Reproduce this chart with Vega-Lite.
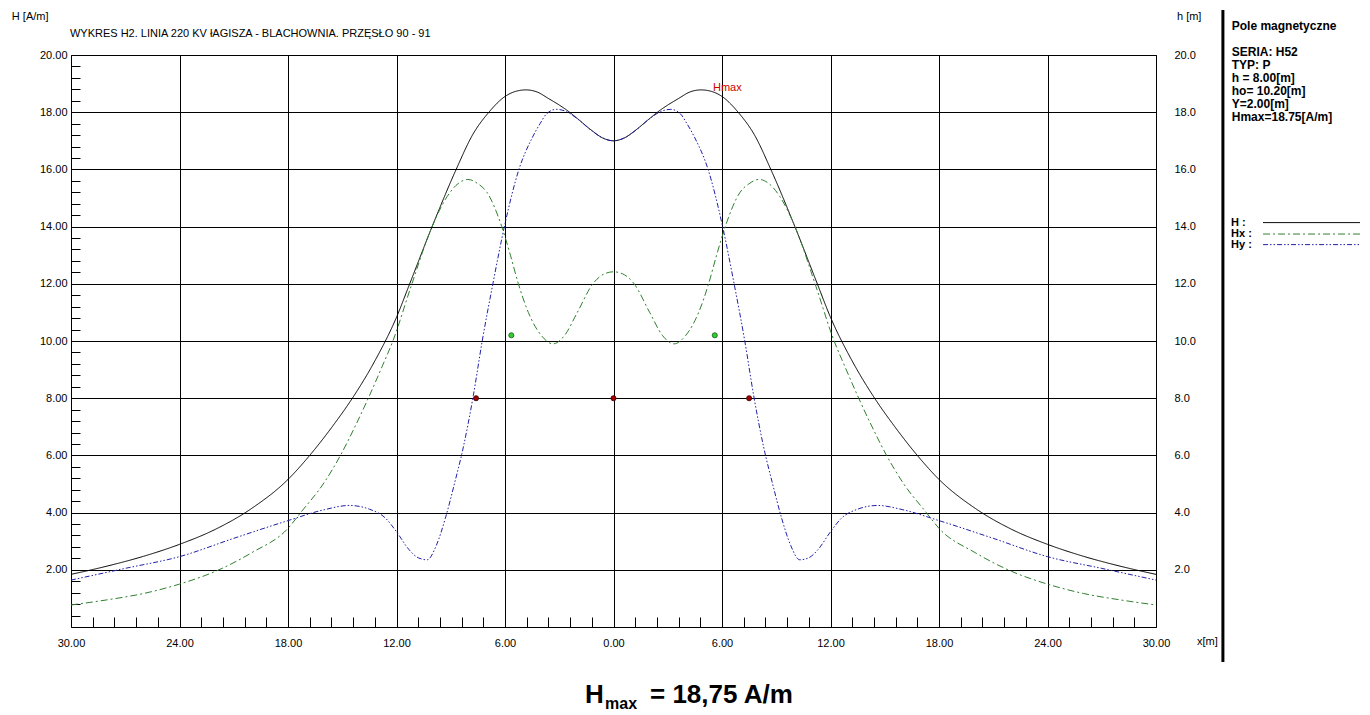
{
  "$schema": "https://vega.github.io/schema/vega-lite/v6.json",
  "width": 1085,
  "height": 572,
  "autosize": "none",
  "padding": {"left": 71, "top": 55, "right": 214, "bottom": 88},
  "background": "white",
  "config": {
    "view": {"stroke": "#000", "strokeWidth": 1},
    "font": "Liberation Sans"
  },
  "datasets": {
    "curves": [
      {"series":"H","x":-30,"y":1.84},{"series":"H","x":-28,"y":2.13},{"series":"H","x":-26,"y":2.47},{"series":"H","x":-24,"y":2.89},{"series":"H","x":-22,"y":3.42},{"series":"H","x":-20,"y":4.15},{"series":"H","x":-18,"y":5.16},{"series":"H","x":-16.8,"y":6.0},{"series":"H","x":-15.5,"y":7.05},{"series":"H","x":-14.44,"y":8.0},{"series":"H","x":-13.2,"y":9.3},{"series":"H","x":-12,"y":10.83},{"series":"H","x":-11.27,"y":12.0},{"series":"H","x":-10.03,"y":14.0},{"series":"H","x":-8.7,"y":16.0},{"series":"H","x":-7.8,"y":17.2},{"series":"H","x":-6.89,"y":18.0},{"series":"H","x":-6,"y":18.55},{"series":"H","x":-5.4,"y":18.73},{"series":"H","x":-4.84,"y":18.78},{"series":"H","x":-4.2,"y":18.7},{"series":"H","x":-3.6,"y":18.48},{"series":"H","x":-3.0,"y":18.25},{"series":"H","x":-2.6,"y":18.08},{"series":"H","x":-2.0,"y":17.78},{"series":"H","x":-1.2,"y":17.36},{"series":"H","x":-0.6,"y":17.1},{"series":"H","x":0,"y":17.0},
      {"series":"H","x":0.6,"y":17.1},{"series":"H","x":1.2,"y":17.36},{"series":"H","x":2.0,"y":17.78},{"series":"H","x":2.6,"y":18.08},{"series":"H","x":3.0,"y":18.25},{"series":"H","x":3.6,"y":18.48},{"series":"H","x":4.2,"y":18.7},{"series":"H","x":4.84,"y":18.78},{"series":"H","x":5.4,"y":18.73},{"series":"H","x":6,"y":18.55},{"series":"H","x":6.89,"y":18.0},{"series":"H","x":7.8,"y":17.2},{"series":"H","x":8.7,"y":16.0},{"series":"H","x":10.03,"y":14.0},{"series":"H","x":11.27,"y":12.0},{"series":"H","x":12,"y":10.83},{"series":"H","x":13.2,"y":9.3},{"series":"H","x":14.44,"y":8.0},{"series":"H","x":15.5,"y":7.05},{"series":"H","x":16.8,"y":6.0},{"series":"H","x":18,"y":5.16},{"series":"H","x":20,"y":4.15},{"series":"H","x":22,"y":3.42},{"series":"H","x":24,"y":2.89},{"series":"H","x":26,"y":2.47},{"series":"H","x":28,"y":2.13},{"series":"H","x":30,"y":1.84},
      {"series":"Hx","x":-30,"y":0.77},{"series":"Hx","x":-28,"y":0.95},{"series":"Hx","x":-26,"y":1.17},{"series":"Hx","x":-24,"y":1.5},{"series":"Hx","x":-22,"y":1.95},{"series":"Hx","x":-20,"y":2.6},{"series":"Hx","x":-18,"y":3.45},{"series":"Hx","x":-17.3,"y":4.0},{"series":"Hx","x":-16,"y":5.05},{"series":"Hx","x":-15.1,"y":6.0},{"series":"Hx","x":-14.3,"y":7.0},{"series":"Hx","x":-13.56,"y":8.0},{"series":"Hx","x":-12.8,"y":9.1},{"series":"Hx","x":-12.2,"y":10.0},{"series":"Hx","x":-11.2,"y":11.9},{"series":"Hx","x":-10.1,"y":13.9},{"series":"Hx","x":-9.2,"y":15.05},{"series":"Hx","x":-8.6,"y":15.5},{"series":"Hx","x":-8.05,"y":15.65},{"series":"Hx","x":-7.5,"y":15.5},{"series":"Hx","x":-7.0,"y":15.2},{"series":"Hx","x":-6.18,"y":14.0},{"series":"Hx","x":-5.7,"y":13.0},{"series":"Hx","x":-5.26,"y":12.0},{"series":"Hx","x":-4.71,"y":11.0},{"series":"Hx","x":-4.0,"y":10.2},{"series":"Hx","x":-3.35,"y":9.9},{"series":"Hx","x":-2.7,"y":10.2},{"series":"Hx","x":-2.0,"y":11.0},{"series":"Hx","x":-1.14,"y":12.0},{"series":"Hx","x":-0.5,"y":12.35},{"series":"Hx","x":0,"y":12.42},
      {"series":"Hx","x":0.5,"y":12.35},{"series":"Hx","x":1.14,"y":12.0},{"series":"Hx","x":2.0,"y":11.0},{"series":"Hx","x":2.7,"y":10.2},{"series":"Hx","x":3.35,"y":9.9},{"series":"Hx","x":4.0,"y":10.2},{"series":"Hx","x":4.71,"y":11.0},{"series":"Hx","x":5.26,"y":12.0},{"series":"Hx","x":5.7,"y":13.0},{"series":"Hx","x":6.18,"y":14.0},{"series":"Hx","x":7.0,"y":15.2},{"series":"Hx","x":7.5,"y":15.5},{"series":"Hx","x":8.05,"y":15.65},{"series":"Hx","x":8.6,"y":15.5},{"series":"Hx","x":9.2,"y":15.05},{"series":"Hx","x":10.1,"y":13.9},{"series":"Hx","x":11.2,"y":11.9},{"series":"Hx","x":12.2,"y":10.0},{"series":"Hx","x":12.8,"y":9.1},{"series":"Hx","x":13.56,"y":8.0},{"series":"Hx","x":14.3,"y":7.0},{"series":"Hx","x":15.1,"y":6.0},{"series":"Hx","x":16,"y":5.05},{"series":"Hx","x":17.3,"y":4.0},{"series":"Hx","x":18,"y":3.45},{"series":"Hx","x":20,"y":2.6},{"series":"Hx","x":22,"y":1.95},{"series":"Hx","x":24,"y":1.5},{"series":"Hx","x":26,"y":1.17},{"series":"Hx","x":28,"y":0.95},{"series":"Hx","x":30,"y":0.77},
      {"series":"Hy","x":-30,"y":1.64},{"series":"Hy","x":-27,"y":2.05},{"series":"Hy","x":-24,"y":2.46},{"series":"Hy","x":-21,"y":3.1},{"series":"Hy","x":-18,"y":3.72},{"series":"Hy","x":-16,"y":4.1},{"series":"Hy","x":-14.6,"y":4.25},{"series":"Hy","x":-13.5,"y":4.12},{"series":"Hy","x":-12.6,"y":3.8},{"series":"Hy","x":-12,"y":3.33},{"series":"Hy","x":-11.3,"y":2.7},{"series":"Hy","x":-10.8,"y":2.42},{"series":"Hy","x":-10.3,"y":2.35},{"series":"Hy","x":-9.8,"y":2.85},{"series":"Hy","x":-9.3,"y":3.8},{"series":"Hy","x":-8.8,"y":5.0},{"series":"Hy","x":-8.3,"y":6.3},{"series":"Hy","x":-7.75,"y":8.1},{"series":"Hy","x":-7.26,"y":10.0},{"series":"Hy","x":-6.67,"y":12.0},{"series":"Hy","x":-6.0,"y":14.1},{"series":"Hy","x":-5.23,"y":16.0},{"series":"Hy","x":-4.5,"y":17.1},{"series":"Hy","x":-4.06,"y":17.6},{"series":"Hy","x":-3.69,"y":17.95},{"series":"Hy","x":-3.17,"y":18.1},{"series":"Hy","x":-2.6,"y":18.02},{"series":"Hy","x":-2.0,"y":17.77},{"series":"Hy","x":-1.2,"y":17.35},{"series":"Hy","x":-0.6,"y":17.1},{"series":"Hy","x":0,"y":17.0},
      {"series":"Hy","x":0.6,"y":17.1},{"series":"Hy","x":1.2,"y":17.35},{"series":"Hy","x":2.0,"y":17.77},{"series":"Hy","x":2.6,"y":18.02},{"series":"Hy","x":3.17,"y":18.1},{"series":"Hy","x":3.69,"y":17.95},{"series":"Hy","x":4.06,"y":17.6},{"series":"Hy","x":4.5,"y":17.1},{"series":"Hy","x":5.23,"y":16.0},{"series":"Hy","x":6.0,"y":14.1},{"series":"Hy","x":6.67,"y":12.0},{"series":"Hy","x":7.26,"y":10.0},{"series":"Hy","x":7.75,"y":8.1},{"series":"Hy","x":8.3,"y":6.3},{"series":"Hy","x":8.8,"y":5.0},{"series":"Hy","x":9.3,"y":3.8},{"series":"Hy","x":9.8,"y":2.85},{"series":"Hy","x":10.3,"y":2.35},{"series":"Hy","x":10.8,"y":2.42},{"series":"Hy","x":11.3,"y":2.7},{"series":"Hy","x":12,"y":3.33},{"series":"Hy","x":12.6,"y":3.8},{"series":"Hy","x":13.5,"y":4.12},{"series":"Hy","x":14.6,"y":4.25},{"series":"Hy","x":16,"y":4.1},{"series":"Hy","x":18,"y":3.72},{"series":"Hy","x":21,"y":3.1},{"series":"Hy","x":24,"y":2.46},{"series":"Hy","x":27,"y":2.05},{"series":"Hy","x":30,"y":1.64}
    ],
    "conductors": [
      {"kind":"phase","x":-7.6,"y":8},{"kind":"phase","x":0,"y":8},{"kind":"phase","x":7.5,"y":8},
      {"kind":"ground","x":-5.65,"y":10.2},{"kind":"ground","x":5.6,"y":10.2}
    ],
    "notes": [
      {"x":-30.06,"y":20.72,"label":"WYKRES H2. LINIA 220 KV łAGISZA - BLACHOWNIA. PRZĘSŁO 90 - 91"},
      {"x":-33.27,"y":21.34,"label":"H [A/m]"},
      {"x":31.16,"y":21.34,"label":"h [m]"},
      {"x":32.27,"y":-0.52,"label":"x[m]"}
    ],
    "panel": [
      {"x":34.19,"y":21.01,"label":"Pole magnetyczne"},
      {"x":34.19,"y":20.105,"label":"SERIA: H52"},
      {"x":34.19,"y":19.65,"label":"TYP: P"},
      {"x":34.19,"y":19.196,"label":"h = 8.00[m]"},
      {"x":34.19,"y":18.741,"label":"ho= 10.20[m]"},
      {"x":34.19,"y":18.287,"label":"Y=2.00[m]"},
      {"x":34.19,"y":17.832,"label":"Hmax=18.75[A/m]"}
    ],
    "legendText": [
      {"x":34.15,"y":14.13,"label":"H   :"},
      {"x":34.15,"y":13.75,"label":"Hx :"},
      {"x":34.15,"y":13.37,"label":"Hy :"}
    ],
    "legendLines": [
      {"series":"H","x":35.92,"x2":41.28,"y":14.14},
      {"series":"Hx","x":35.92,"x2":41.28,"y":13.74},
      {"series":"Hy","x":35.92,"x2":41.28,"y":13.37}
    ],
    "divider": [{"x":33.7,"y":21.57,"y2":-1.22}],
    "hmaxLabel": [{"x":5.5,"y":18.75,"label":"Hmax"}],
    "bigText": [
      {"x":-1.576,"y":-2.657,"label":"H"},
      {"x":2.018,"y":-2.657,"label":"= 18,75 A/m"}
    ],
    "subText": [{"x":-0.47,"y":-2.867,"label":"max"}]
  },
  "resolve": {"axis": {"x": "independent", "y": "independent"}},
  "layer": [
    {
      "data": {"name": "curves"},
      "mark": {"type": "line", "strokeWidth": 1, "interpolate": "monotone"},
      "encoding": {
        "x": {
          "field": "x", "type": "quantitative",
          "scale": {"domain": [-30, 30], "nice": false, "zero": false},
          "axis": {
            "title": null,
            "orient": "bottom",
            "values": [-30, -24, -18, -12, -6, 0, 6, 12, 18, 24, 30],
            "labelExpr": "datum.value < 0 ? format(-datum.value, '.2f') : format(datum.value, '.2f')",
            "labelOverlap": false,
            "labelFlush": false,
            "labelFontSize": 11,
            "labelColor": "#000",
            "labelFont": "Liberation Sans",
            "ticks": false,
            "labelPadding": 10,
            "domain": false,
            "grid": true,
            "gridColor": "#000",
            "gridWidth": 1,
            "gridOpacity": 1
          }
        },
        "y": {
          "field": "y", "type": "quantitative",
          "scale": {"domain": [0, 20], "nice": false, "zero": false},
          "axis": {
            "title": null,
            "orient": "left",
            "values": [2, 4, 6, 8, 10, 12, 14, 16, 18, 20],
            "format": ".2f",
            "labelOverlap": false,
            "labelFlush": false,
            "labelFontSize": 11,
            "labelColor": "#000",
            "labelFont": "Liberation Sans",
            "ticks": false,
            "labelPadding": 4,
            "domain": false,
            "grid": true,
            "gridColor": "#000",
            "gridWidth": 1,
            "gridOpacity": 1
          }
        },
        "color": {
          "field": "series", "type": "nominal",
          "scale": {"domain": ["H", "Hx", "Hy"], "range": ["#000000", "#2f7f2f", "#2020a8"]},
          "legend": null
        },
        "strokeDash": {
          "field": "series", "type": "nominal",
          "scale": {"domain": ["H", "Hx", "Hy"], "range": [[1, 0], [7, 3, 2, 3], [5, 2, 1.5, 2, 1.5, 2]]},
          "legend": null
        }
      }
    },
    {
      "data": {"name": "conductors"},
      "mark": {"type": "point", "filled": true, "shape": "circle", "size": 26, "strokeWidth": 0.8, "opacity": 1},
      "encoding": {
        "x": {
          "field": "x", "type": "quantitative",
          "scale": {"domain": [-30, 30], "nice": false, "zero": false},
          "axis": {
            "title": null,
            "orient": "bottom",
            "offset": -10,
            "values": [-28.8,-27.6,-26.4,-25.2,-22.8,-21.6,-20.4,-19.2,-16.8,-15.6,-14.4,-13.2,-10.8,-9.6,-8.4,-7.2,-4.8,-3.6,-2.4,-1.2,1.2,2.4,3.6,4.8,7.2,8.4,9.6,10.8,13.2,14.4,15.6,16.8,19.2,20.4,21.6,22.8,25.2,26.4,27.6,28.8],
            "labels": false,
            "domain": false,
            "grid": false,
            "ticks": true,
            "tickSize": 10,
            "tickColor": "#000",
            "tickWidth": 1
          }
        },
        "y": {
          "field": "y", "type": "quantitative",
          "scale": {"domain": [0, 20], "nice": false, "zero": false},
          "axis": {
            "title": null,
            "orient": "right",
            "values": [2,4,6,8,10,12,14,16,18,20],
            "format": ".1f",
            "labelOverlap": false,
            "labelFlush": false,
            "labelFontSize": 11,
            "labelColor": "#000",
            "labelFont": "Liberation Sans",
            "labelAlign": "left",
            "ticks": false,
            "domain": false,
            "grid": false,
            "labelPadding": 18
          }
        },
        "fill": {"field": "kind", "type": "nominal", "scale": {"domain": ["phase", "ground"], "range": ["#a00000", "#33cc33"]}, "legend": null},
        "stroke": {"field": "kind", "type": "nominal", "scale": {"domain": ["phase", "ground"], "range": ["#3a0000", "#146014"]}, "legend": null}
      }
    },
    {
      "data": {"name": "legendLines"},
      "mark": {"type": "rule", "strokeWidth": 1},
      "encoding": {
        "x": {"field": "x", "type": "quantitative", "scale": {"domain": [-30, 30], "nice": false, "zero": false}, "axis": null},
        "x2": {"field": "x2"},
        "y": {
          "field": "y", "type": "quantitative",
          "scale": {"domain": [0, 20], "nice": false, "zero": false},
          "axis": {
            "title": null,
            "orient": "left",
            "offset": -9,
            "values": [0.4,0.8,1.2,1.6,2.4,2.8,3.2,3.6,4.4,4.8,5.2,5.6,6.4,6.8,7.2,7.6,8.4,8.8,9.2,9.6,10.4,10.8,11.2,11.6,12.4,12.8,13.2,13.6,14.4,14.8,15.2,15.6,16.4,16.8,17.2,17.6,18.4,18.8,19.2,19.6],
            "labels": false,
            "domain": false,
            "grid": false,
            "ticks": true,
            "tickSize": 9,
            "tickColor": "#000",
            "tickWidth": 1
          }
        },
        "color": {"field": "series", "type": "nominal", "legend": null},
        "strokeDash": {"field": "series", "type": "nominal", "legend": null}
      }
    },
    {
      "data": {"name": "divider"},
      "mark": {"type": "rule", "strokeWidth": 3, "color": "#000"},
      "encoding": {
        "x": {"field": "x", "type": "quantitative", "scale": {"domain": [-30, 30], "nice": false, "zero": false}, "axis": null},
        "y": {"field": "y", "type": "quantitative", "scale": {"domain": [0, 20], "nice": false, "zero": false}, "axis": null},
        "y2": {"field": "y2"}
      }
    },
    {
      "data": {"name": "notes"},
      "mark": {"type": "text", "align": "left", "baseline": "middle", "fontSize": 11, "font": "Liberation Sans", "color": "#000"},
      "encoding": {
        "x": {"field": "x", "type": "quantitative", "scale": {"domain": [-30, 30], "nice": false, "zero": false}, "axis": null},
        "y": {"field": "y", "type": "quantitative", "scale": {"domain": [0, 20], "nice": false, "zero": false}, "axis": null},
        "text": {"field": "label"}
      }
    },
    {
      "data": {"name": "panel"},
      "mark": {"type": "text", "align": "left", "baseline": "middle", "fontSize": 12, "fontWeight": "bold", "font": "Liberation Sans", "color": "#000"},
      "encoding": {
        "x": {"field": "x", "type": "quantitative", "scale": {"domain": [-30, 30], "nice": false, "zero": false}, "axis": null},
        "y": {"field": "y", "type": "quantitative", "scale": {"domain": [0, 20], "nice": false, "zero": false}, "axis": null},
        "text": {"field": "label"}
      }
    },
    {
      "data": {"name": "legendText"},
      "mark": {"type": "text", "align": "left", "baseline": "middle", "fontSize": 11, "fontWeight": "bold", "font": "Liberation Sans", "color": "#000"},
      "encoding": {
        "x": {"field": "x", "type": "quantitative", "scale": {"domain": [-30, 30], "nice": false, "zero": false}, "axis": null},
        "y": {"field": "y", "type": "quantitative", "scale": {"domain": [0, 20], "nice": false, "zero": false}, "axis": null},
        "text": {"field": "label"}
      }
    },
    {
      "data": {"name": "hmaxLabel"},
      "mark": {"type": "text", "align": "left", "baseline": "alphabetic", "fontSize": 11, "font": "Liberation Sans", "color": "#cc0000"},
      "encoding": {
        "x": {"field": "x", "type": "quantitative", "scale": {"domain": [-30, 30], "nice": false, "zero": false}, "axis": null},
        "y": {"field": "y", "type": "quantitative", "scale": {"domain": [0, 20], "nice": false, "zero": false}, "axis": null},
        "text": {"field": "label"}
      }
    },
    {
      "data": {"name": "bigText"},
      "mark": {"type": "text", "align": "left", "baseline": "alphabetic", "fontSize": 26, "fontWeight": "bold", "font": "Liberation Sans", "color": "#000"},
      "encoding": {
        "x": {"field": "x", "type": "quantitative", "scale": {"domain": [-30, 30], "nice": false, "zero": false}, "axis": null},
        "y": {"field": "y", "type": "quantitative", "scale": {"domain": [0, 20], "nice": false, "zero": false}, "axis": null},
        "text": {"field": "label"}
      }
    },
    {
      "data": {"name": "subText"},
      "mark": {"type": "text", "align": "left", "baseline": "alphabetic", "fontSize": 16, "fontWeight": "bold", "font": "Liberation Sans", "color": "#000"},
      "encoding": {
        "x": {"field": "x", "type": "quantitative", "scale": {"domain": [-30, 30], "nice": false, "zero": false}, "axis": null},
        "y": {"field": "y", "type": "quantitative", "scale": {"domain": [0, 20], "nice": false, "zero": false}, "axis": null},
        "text": {"field": "label"}
      }
    }
  ]
}
